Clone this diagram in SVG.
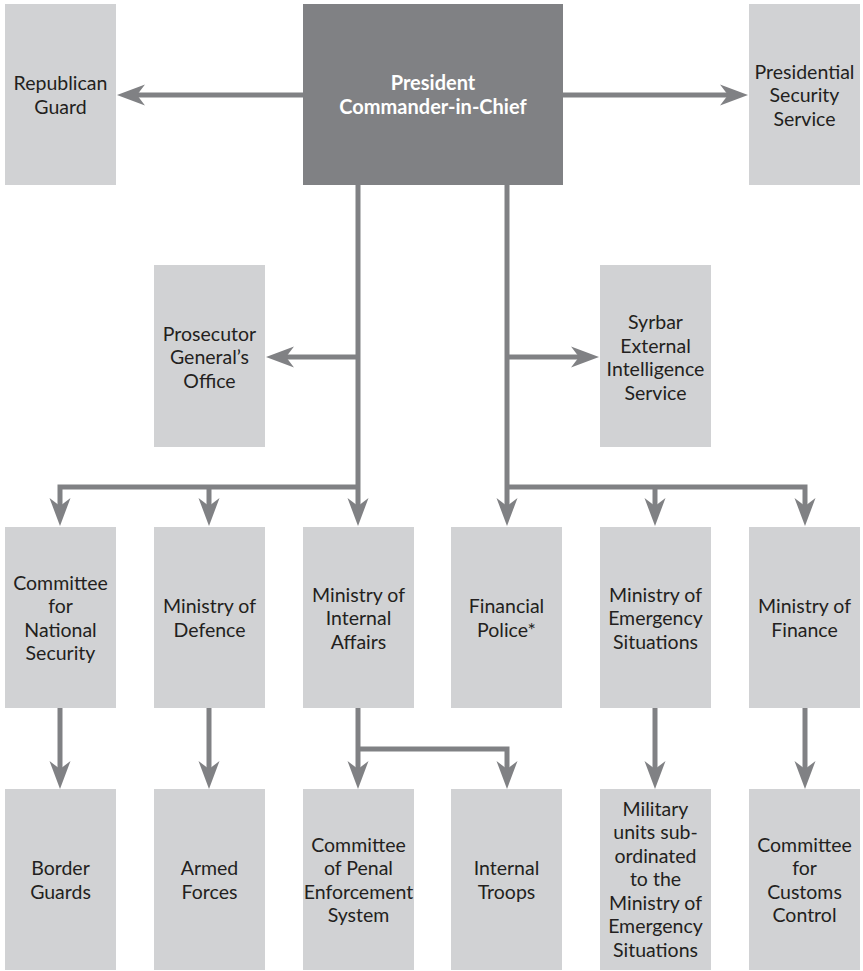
<svg xmlns="http://www.w3.org/2000/svg" width="863" height="971" viewBox="0 0 863 971">
<style>
.box{fill:#d1d2d4}
.dark{fill:#808184}
.t{font-family:Lato,"Open Sans","Liberation Sans",sans-serif;font-size:19.5px;fill:#231f20;text-anchor:middle}
.tb{font-family:Lato,"Open Sans","Liberation Sans",sans-serif;font-size:20px;font-weight:bold;fill:#ffffff;text-anchor:middle}
.c{fill:none;stroke:#808184;stroke-width:5;stroke-linejoin:miter;marker-end:url(#ah)}
.cn{fill:none;stroke:#808184;stroke-width:5}
</style>
<defs>
<marker id="ah" markerUnits="userSpaceOnUse" viewBox="0 0 28 22" markerWidth="28" markerHeight="22" refX="14" refY="11" orient="auto">
<path d="M28,11 L0,0.5 L8,11 L0,21.5 Z" fill="#808184"/>
</marker>
</defs>
<rect width="863" height="971" fill="#ffffff"/>
<g id="connectors">
<path class="c" d="M303,95 H131"/>
<path class="c" d="M563,95 H734"/>
<path class="c" d="M358,185 V512"/>
<path class="c" d="M358,357 H280"/>
<path class="c" d="M358,487 H60 V512"/>
<path class="c" d="M209,487 V512"/>
<path class="c" d="M507,185 V512"/>
<path class="c" d="M507,357 H585"/>
<path class="c" d="M507,487 H805 V512"/>
<path class="c" d="M655,487 V512"/>
<path class="c" d="M60,708 V775"/>
<path class="c" d="M209,708 V775"/>
<path class="c" d="M358,708 V775"/>
<path class="c" d="M358,749 H507 V775"/>
<path class="c" d="M655,708 V775"/>
<path class="c" d="M805,708 V775"/>
</g>
<g id="republican-guard"><rect class="box" x="5" y="4" width="111" height="181"/>
<text class="t" x="60.5" y="90">Republican</text><text class="t" x="60.5" y="113.5">Guard</text></g>
<g id="president"><rect class="dark" x="303" y="4" width="260" height="181"/>
<text class="tb" x="433" y="90">President</text><text class="tb" x="433" y="113.5">Commander-in-Chief</text></g>
<g id="presidential-security"><rect class="box" x="749" y="4" width="111" height="181"/>
<text class="t" x="804.5" y="78.5">Presidential</text><text class="t" x="804.5" y="102">Security</text><text class="t" x="804.5" y="125.5">Service</text></g>
<g id="prosecutor"><rect class="box" x="154" y="265" width="111" height="182"/>
<text class="t" x="209.5" y="340.5">Prosecutor</text><text class="t" x="209.5" y="364">General’s</text><text class="t" x="209.5" y="387.5">Office</text></g>
<g id="syrbar"><rect class="box" x="600" y="265" width="111" height="182"/>
<text class="t" x="655.5" y="329">Syrbar</text><text class="t" x="655.5" y="352.5">External</text><text class="t" x="655.5" y="376">Intelligence</text><text class="t" x="655.5" y="399.5">Service</text></g>
<g id="cns"><rect class="box" x="5" y="527" width="111" height="181"/>
<text class="t" x="60.5" y="589.5">Committee</text><text class="t" x="60.5" y="613">for</text><text class="t" x="60.5" y="636.5">National</text><text class="t" x="60.5" y="660">Security</text></g>
<g id="defence"><rect class="box" x="154" y="527" width="111" height="181"/>
<text class="t" x="209.5" y="613">Ministry of</text><text class="t" x="209.5" y="636.5">Defence</text></g>
<g id="internal-affairs"><rect class="box" x="303" y="527" width="111" height="181"/>
<text class="t" x="358.5" y="601.5">Ministry of</text><text class="t" x="358.5" y="625">Internal</text><text class="t" x="358.5" y="648.5">Affairs</text></g>
<g id="financial-police"><rect class="box" x="451" y="527" width="111" height="181"/>
<text class="t" x="506.5" y="613">Financial</text><text class="t" x="506.5" y="636.5">Police*</text></g>
<g id="emergency"><rect class="box" x="600" y="527" width="111" height="181"/>
<text class="t" x="655.5" y="601.5">Ministry of</text><text class="t" x="655.5" y="625">Emergency</text><text class="t" x="655.5" y="648.5">Situations</text></g>
<g id="finance"><rect class="box" x="749" y="527" width="111" height="181"/>
<text class="t" x="804.5" y="613">Ministry of</text><text class="t" x="804.5" y="636.5">Finance</text></g>
<g id="border-guards"><rect class="box" x="5" y="789" width="111" height="181"/>
<text class="t" x="60.5" y="875">Border</text><text class="t" x="60.5" y="898.5">Guards</text></g>
<g id="armed-forces"><rect class="box" x="154" y="789" width="111" height="181"/>
<text class="t" x="209.5" y="875">Armed</text><text class="t" x="209.5" y="898.5">Forces</text></g>
<g id="penal"><rect class="box" x="303" y="789" width="111" height="181"/>
<text class="t" x="358.5" y="851.5">Committee</text><text class="t" x="358.5" y="875">of Penal</text><text class="t" x="358.5" y="898.5">Enforcement</text><text class="t" x="358.5" y="922">System</text></g>
<g id="internal-troops"><rect class="box" x="451" y="789" width="111" height="181"/>
<text class="t" x="506.5" y="875">Internal</text><text class="t" x="506.5" y="898.5">Troops</text></g>
<g id="military-units"><rect class="box" x="600" y="789" width="111" height="181"/>
<text class="t" x="655.5" y="815.5">Military</text><text class="t" x="655.5" y="839">units sub-</text><text class="t" x="655.5" y="862.5">ordinated</text><text class="t" x="655.5" y="886">to the</text><text class="t" x="655.5" y="909.5">Ministry of</text><text class="t" x="655.5" y="933">Emergency</text><text class="t" x="655.5" y="956.5">Situations</text></g>
<g id="customs"><rect class="box" x="749" y="789" width="111" height="181"/>
<text class="t" x="804.5" y="851.5">Committee</text><text class="t" x="804.5" y="875">for</text><text class="t" x="804.5" y="898.5">Customs</text><text class="t" x="804.5" y="922">Control</text></g>
</svg>
